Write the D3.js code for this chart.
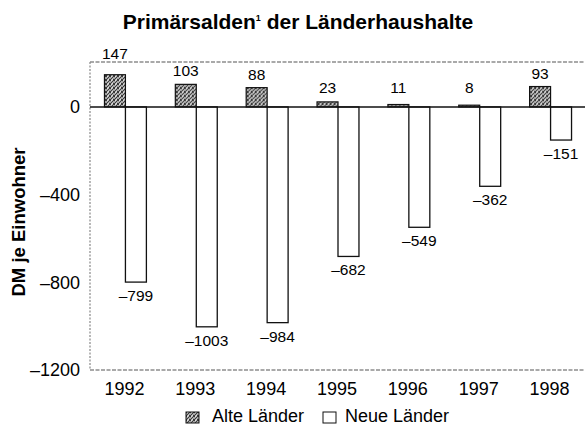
<!DOCTYPE html>
<html>
<head>
<meta charset="utf-8">
<script src="https://cdn.jsdelivr.net/npm/d3@7"></script>
<style>
  body { margin: 0; background: #fff; }
  text { font-family: "Liberation Sans", Arial, sans-serif; fill: #000; }
</style>
</head>
<body>
<script>
// Primärsalden der Länderhaushalte, DM je Einwohner

const years = ["1992", "1993", "1994", "1995", "1996", "1997", "1998"];
const alteLaender = [147, 103, 88, 23, 11, 8, 93];
const neueLaender = [-799, -1003, -984, -682, -549, -362, -151];
const yTicks = [0, -400, -800, -1200];
const seriesNames = ["Alte Länder", "Neue Länder"];

const width = 585, height = 426;
const margin = {top: 62, right: -1, bottom: 56, left: 90};

const svg = d3.select("body").append("svg")
  .attr("width", width)
  .attr("height", height);

// stipple pattern for the old states
const defs = svg.append("defs");
const pat = defs.append("pattern")
  .attr("id", "stipple")
  .attr("patternUnits", "userSpaceOnUse")
  .attr("width", 4).attr("height", 4);
pat.append("rect").attr("width", 4).attr("height", 4).attr("fill", "#a8a8a8");
[[0,0],[2,1],[1,2],[3,3],[3,0],[0,3]].forEach(p => {
  pat.append("rect").attr("x", p[0]).attr("y", p[1]).attr("width", 1).attr("height", 1).attr("fill", "#3a3a3a");
});
pat.append("rect").attr("x", 1).attr("y", 0).attr("width", 1).attr("height", 1).attr("fill", "#e0e0e0");
pat.append("rect").attr("x", 2).attr("y", 3).attr("width", 1).attr("height", 1).attr("fill", "#e0e0e0");

const x0 = d3.scaleBand()
  .domain(years)
  .range([margin.left, width - margin.right])
  .padding(0);

const x1 = d3.scaleBand()
  .domain(seriesNames)
  .range([0, x0.bandwidth()])
  .paddingInner(0)
  .paddingOuter(0.69);

const y = d3.scaleLinear()
  .domain([-1200, 205])
  .range([height - margin.bottom, margin.top]);

const rows = years.map((yr, i) => ({year: yr, alt: alteLaender[i], neu: neueLaender[i]}));

// title
const title = svg.append("text")
  .attr("x", 298).attr("y", 29)
  .attr("text-anchor", "middle")
  .style("font-size", "21px")
  .style("font-weight", "bold");
title.append("tspan").text("Primärsalden");
title.append("tspan").attr("dy", -8).style("font-size", "9px").text("1");
title.append("tspan").attr("dy", 8).text(" der Länderhaushalte");

// frame (dashed, scanned look)
const frame = svg.append("g")
  .attr("stroke", "#555")
  .attr("stroke-width", 1.2)
  .attr("stroke-dasharray", "4,1.5");
frame.append("line")
  .attr("x1", margin.left).attr("x2", width)
  .attr("y1", y(205)).attr("y2", y(205));
frame.append("line")
  .attr("x1", margin.left).attr("x2", width)
  .attr("y1", y(-1200)).attr("y2", y(-1200));
frame.append("line")
  .attr("x1", margin.left).attr("x2", margin.left)
  .attr("y1", y(205)).attr("y2", y(-1200))
  .attr("stroke", "#888")
  .attr("stroke-dasharray", "2,1.5");

// y tick labels
svg.append("g").selectAll("text")
  .data(yTicks)
  .join("text")
  .attr("x", margin.left - 10)
  .attr("y", d => y(d))
  .attr("dy", "0.36em")
  .attr("text-anchor", "end")
  .style("font-size", "18px")
  .text(d => d === 0 ? "0" : "\u2013" + Math.abs(d));

// y axis title
svg.append("text")
  .attr("transform", "translate(25," + 222 + ") rotate(-90)")
  .attr("text-anchor", "middle")
  .style("font-size", "18.5px")
  .style("font-weight", "bold")
  .text("DM je Einwohner");

// year labels
svg.append("g").selectAll("text")
  .data(years)
  .join("text")
  .attr("x", d => x0(d) + x0.bandwidth() / 2 - 1)
  .attr("y", 395)
  .attr("text-anchor", "middle")
  .style("font-size", "18px")
  .text(d => d);

const groups = svg.append("g").selectAll("g")
  .data(rows)
  .join("g")
  .attr("transform", d => "translate(" + x0(d.year) + ",0)");

// Neue Länder bars (white)
groups.append("rect")
  .attr("x", x1("Neue Länder"))
  .attr("y", d => y(0))
  .attr("width", x1.bandwidth())
  .attr("height", d => y(d.neu) - y(0))
  .attr("fill", "#fff")
  .attr("stroke", "#111")
  .attr("stroke-width", 1.3);

// Alte Länder bars (stippled)
groups.append("rect")
  .attr("x", x1("Alte Länder"))
  .attr("y", d => y(d.alt))
  .attr("width", x1.bandwidth())
  .attr("height", d => y(0) - y(d.alt))
  .attr("fill", "url(#stipple)")
  .attr("stroke", "#111")
  .attr("stroke-width", 1.2);

// zero line
svg.append("line")
  .attr("x1", margin.left).attr("x2", width)
  .attr("y1", y(0)).attr("y2", y(0))
  .attr("stroke", "#111")
  .attr("stroke-width", 1.5);

// value labels
groups.append("text")
  .attr("x", x1("Alte Länder") + x1.bandwidth() / 2)
  .attr("y", d => {
    let ly = Math.min(y(d.alt) - 8, y(0) - 14);
    if (ly - 11 < y(205)) ly = y(205) - 3;   // push above the frame
    return ly;
  })
  .attr("text-anchor", "middle")
  .style("font-size", "15.5px")
  .text(d => d.alt);

groups.append("text")
  .attr("x", x1("Neue Länder") + x1.bandwidth() / 2)
  .attr("y", d => y(d.neu) + 19)
  .attr("text-anchor", "middle")
  .style("font-size", "15.5px")
  .text(d => "\u2013" + Math.abs(d.neu));

// legend
const legend = svg.append("g").attr("transform", "translate(186,412)");
legend.append("rect")
  .attr("width", 13).attr("height", 11)
  .attr("fill", "url(#stipple)").attr("stroke", "#111").attr("stroke-width", 1);
legend.append("text")
  .attr("x", 26).attr("y", 10)
  .style("font-size", "18px")
  .text(seriesNames[0]);
legend.append("rect")
  .attr("x", 137)
  .attr("width", 13).attr("height", 11)
  .attr("fill", "#fff").attr("stroke", "#111").attr("stroke-width", 1);
legend.append("text")
  .attr("x", 159).attr("y", 10)
  .style("font-size", "18px")
  .text(seriesNames[1]);
</script>
</body>
</html>
